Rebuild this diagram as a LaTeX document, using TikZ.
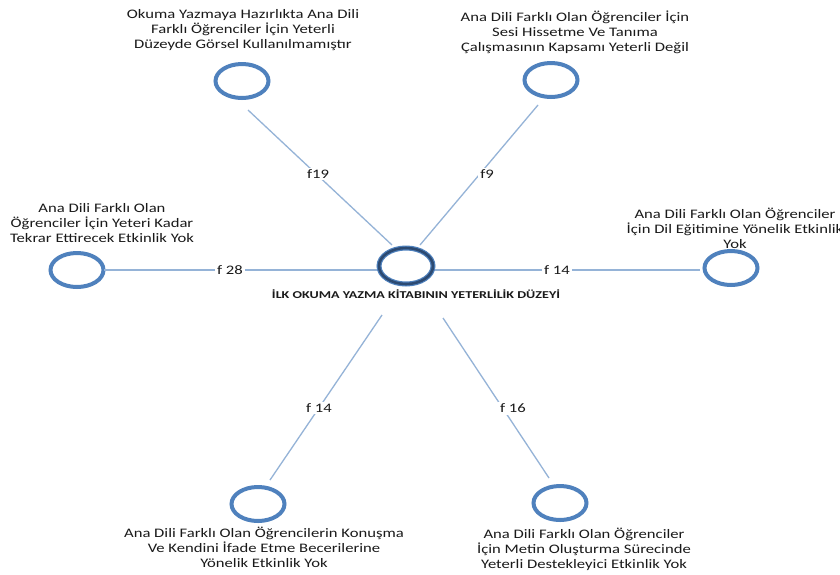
\documentclass[tikz,border=0pt]{standalone}
\usepackage{fontspec}
\setmainfont{Carlito}[FakeStretch=1.28]
\usetikzlibrary{shapes.geometric}
\definecolor{ringblue}{HTML}{4F81BD}
\definecolor{ringdark}{HTML}{2C4A72}
\definecolor{linkblue}{HTML}{95B3D7}
\definecolor{txt}{HTML}{1A1A1A}
\tikzset{
  ring/.style={ellipse, draw=ringblue, line width=4pt, minimum width=53pt, minimum height=34pt, inner sep=0pt},
  hub/.style={ellipse, draw=ringdark, line width=2.6pt, minimum width=54pt, minimum height=36pt, inner sep=0pt,
    preaction={draw=ringblue, line width=5pt}},
  link/.style={draw=linkblue, line width=1.3pt},
  flabel/.style={fill=white, inner sep=2pt, text=txt, font=\fontsize{13}{15.5}\selectfont},
  caption/.style={align=center, text=txt, inner sep=0pt, font=\fontsize{13}{15}\selectfont}
}
\begin{document}
\begin{tikzpicture}[x=1pt,y=-1pt]
\useasboundingbox (0,0) rectangle (840,574);
\fill[white] (0,0) rectangle (840,574);
% rings
\node[hub]  (c)  at (406,266) {};
\node[ring] (tl) at (242,81) {};
\node[ring] (tr) at (551,80) {};
\node[ring] (l)  at (77,270) {};
\node[ring] (r)  at (731,268) {};
\node[ring] (bl) at (258,504) {};
\node[ring] (br) at (560,503) {};
% connector end points
\coordinate (tl-a) at (248,110); \coordinate (tl-b) at (392,245);
\coordinate (tr-a) at (538,105); \coordinate (tr-b) at (420,245);
\coordinate (l-a)  at (104,270); \coordinate (l-b)  at (377,270);
\coordinate (r-a)  at (435,270); \coordinate (r-b)  at (700,270);
\coordinate (bl-a) at (382,315); \coordinate (bl-b) at (270,480);
\coordinate (br-a) at (443,318); \coordinate (br-b) at (549,478);
\draw[link] (tl-a) -- (tl-b);
\draw[link] (tr-a) -- (tr-b);
\draw[link] (l-a) -- (l-b);
\draw[link] (r-a) -- (r-b);
\draw[link] (bl-a) -- (bl-b);
\draw[link] (br-a) -- (br-b);
% connector labels
\node[flabel] (f19) at (318,174) {f19};
\node[flabel] (f9)  at (487,174) {f9};
\node[flabel] (f28) at (230,270) {f 28};
\node[flabel] (f14a) at (557,270) {f 14};
\node[flabel] (f14b) at (319,408) {f 14};
\node[flabel] (f16) at (513,408) {f 16};
% hub caption
\node[inner sep=0pt, text=txt] (hubcap) at (416,294) {\resizebox{288pt}{\height}{\fontsize{10.5}{10.5}\selectfont\bfseries İLK OKUMA YAZMA KİTABININ YETERLİLİK DÜZEYİ}};
% captions
\node[caption] (ttl) at (243,30) {Okuma Yazmaya Hazırlıkta Ana Dili\\Farklı Öğrenciler İçin Yeterli\\Düzeyde Görsel Kullanılmamıştır};
\node[caption] (ttr) at (575,32) {Ana Dili Farklı Olan Öğrenciler İçin\\Sesi Hissetme Ve Tanıma\\Çalışmasının Kapsamı Yeterli Değil};
\node[caption] (tl2) at (102,223) {Ana Dili Farklı Olan\\Öğrenciler İçin Yeteri Kadar\\Tekrar Ettirecek Etkinlik Yok};
\node[caption] (tr2) at (735,228) {Ana Dili Farklı Olan Öğrenciler\\İçin Dil Eğitimine Yönelik Etkinlik\\Yok};
\node[caption] (tbl) at (264,547) {Ana Dili Farklı Olan Öğrencilerin Konuşma\\Ve Kendini İfade Etme Becerilerine\\Yönelik Etkinlik Yok};
\node[caption] (tbr) at (584,549) {Ana Dili Farklı Olan Öğrenciler\\İçin Metin Oluşturma Sürecinde\\Yeterli Destekleyici Etkinlik Yok};
\end{tikzpicture}
\end{document}
